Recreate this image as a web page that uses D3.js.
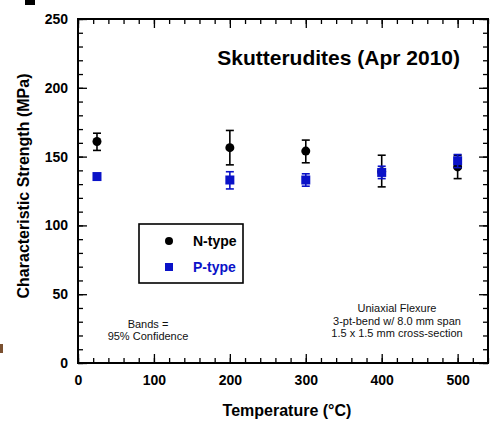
<!DOCTYPE html>
<html>
<head>
<meta charset="utf-8">
<script src="https://cdn.jsdelivr.net/npm/d3@7"></script>
<style>
  body { margin: 0; background: white; }
  svg { display: block; font-family: "Liberation Sans", Arial, sans-serif; }
</style>
</head>
<body>
<script>
var temps = [25, 200, 300, 400, 500];
var nMean = [161, 156.5, 154, 139, 142.5];
var nLow  = [154.5, 144, 145.5, 128, 134];
var nHigh = [167, 169, 162, 151, 151];
var pMean = [135.5, 133, 133, 138.5, 147];
var pLow  = [134, 126.5, 128.5, 134, 142];
var pHigh = [137, 139, 137.5, 143, 151.5];
var xTicks = [0, 100, 200, 300, 400, 500];
var yTicks = [0, 50, 100, 150, 200, 250];

var blue = "#0a12c8";

var svg = d3.select("body")
            .append("svg")
            .attr("width", 500)
            .attr("height", 426);

var xScale = d3.scaleLinear().domain([0, 540]).range([78, 488]);
var yScale = d3.scaleLinear().domain([0, 250]).range([363, 19]);

// stray marks from the original crop
svg.append("rect").attr("x", 25).attr("y", 0).attr("width", 10).attr("height", 5).attr("fill", "#000");
svg.append("rect").attr("x", 0).attr("y", 344).attr("width", 3).attr("height", 9).attr("fill", "#7a5030");

// minor ticks (inward, all four sides)
var xMinor = d3.range(0, 541, 20);
var yMinor = d3.range(0, 251, 10);

function styleAxis(g) {
  g.select(".domain").remove();
  g.selectAll("line").attr("stroke", "#000").attr("stroke-width", 1.3);
  g.selectAll("text")
   .attr("font-size", 14)
   .attr("font-weight", "bold")
   .attr("fill", "#000")
   .attr("font-family", "Liberation Sans, Arial, sans-serif");
}

svg.append("g")
   .attr("transform", "translate(0,363)")
   .call(d3.axisBottom(xScale).tickValues(xMinor).tickSize(-5).tickFormat(""))
   .call(styleAxis);
svg.append("g")
   .attr("transform", "translate(0,19)")
   .call(d3.axisTop(xScale).tickValues(xMinor).tickSize(-5).tickFormat(""))
   .call(styleAxis);
svg.append("g")
   .attr("transform", "translate(78,0)")
   .call(d3.axisLeft(yScale).tickValues(yMinor).tickSize(-5).tickFormat(""))
   .call(styleAxis);
svg.append("g")
   .attr("transform", "translate(488,0)")
   .call(d3.axisRight(yScale).tickValues(yMinor).tickSize(-5).tickFormat(""))
   .call(styleAxis);

// major ticks with labels
svg.append("g")
   .attr("transform", "translate(0,363)")
   .call(d3.axisBottom(xScale).tickValues(xTicks).tickSize(-9).tickPadding(12))
   .call(styleAxis);
svg.append("g")
   .attr("transform", "translate(0,19)")
   .call(d3.axisTop(xScale).tickValues(xTicks).tickSize(-9).tickFormat(""))
   .call(styleAxis);
svg.append("g")
   .attr("transform", "translate(78,0)")
   .call(d3.axisLeft(yScale).tickValues(yTicks).tickSize(-9).tickPadding(10))
   .call(styleAxis);
svg.append("g")
   .attr("transform", "translate(488,0)")
   .call(d3.axisRight(yScale).tickValues(yTicks).tickSize(-9).tickFormat(""))
   .call(styleAxis);

// frame
svg.append("rect")
   .attr("x", 78)
   .attr("y", 19)
   .attr("width", 410)
   .attr("height", 344)
   .attr("fill", "none")
   .attr("stroke", "#000")
   .attr("stroke-width", 2);

// titles
svg.append("text")
   .attr("x", 460)
   .attr("y", 65)
   .attr("text-anchor", "end")
   .attr("font-size", 21)
   .attr("font-weight", "bold")
   .text("Skutterudites (Apr 2010)");

svg.append("text")
   .attr("transform", "translate(29,186) rotate(-90)")
   .attr("text-anchor", "middle")
   .attr("font-size", 16)
   .attr("font-weight", "bold")
   .text("Characteristic Strength (MPa)");

svg.append("text")
   .attr("x", 287)
   .attr("y", 416)
   .attr("text-anchor", "middle")
   .attr("font-size", 16)
   .attr("font-weight", "bold")
   .text("Temperature (°C)");

// notes
var bands = ["Bands =", "95% Confidence"];
svg.selectAll(".bands")
   .data(bands).enter()
   .append("text")
   .attr("class", "bands")
   .attr("x", 148)
   .attr("y", (d, i) => 328 + i * 12)
   .attr("text-anchor", "middle")
   .attr("font-size", 11)
   .attr("fill", "#111")
   .text((d) => d);

var notes = ["Uniaxial Flexure", "3-pt-bend w/ 8.0 mm span", "1.5 x 1.5 mm cross-section"];
svg.selectAll(".notes")
   .data(notes).enter()
   .append("text")
   .attr("class", "notes")
   .attr("x", 397)
   .attr("y", (d, i) => 312 + i * 12.5)
   .attr("text-anchor", "middle")
   .attr("font-size", 11)
   .attr("fill", "#111")
   .text((d) => d);

// series
var nData = temps.map((t, i) => ({t: t, m: nMean[i], lo: nLow[i], hi: nHigh[i]}));
var pData = temps.map((t, i) => ({t: t, m: pMean[i], lo: pLow[i], hi: pHigh[i]}));

function errorBars(data, color, cls) {
  var g = svg.selectAll("." + cls)
             .data(data).enter()
             .append("g")
             .attr("class", cls)
             .attr("stroke", color)
             .attr("stroke-width", 1.6);
  g.append("line")
   .attr("x1", (d) => xScale(d.t)).attr("x2", (d) => xScale(d.t))
   .attr("y1", (d) => yScale(d.lo)).attr("y2", (d) => yScale(d.hi));
  g.append("line")
   .attr("x1", (d) => xScale(d.t) - 4).attr("x2", (d) => xScale(d.t) + 4)
   .attr("y1", (d) => yScale(d.lo)).attr("y2", (d) => yScale(d.lo));
  g.append("line")
   .attr("x1", (d) => xScale(d.t) - 4).attr("x2", (d) => xScale(d.t) + 4)
   .attr("y1", (d) => yScale(d.hi)).attr("y2", (d) => yScale(d.hi));
}

errorBars(nData, "#000", "nbar");
svg.selectAll(".npt")
   .data(nData).enter()
   .append("circle")
   .attr("class", "npt")
   .attr("cx", (d) => xScale(d.t))
   .attr("cy", (d) => yScale(d.m))
   .attr("r", 4.5)
   .attr("fill", "#000");

errorBars(pData, blue, "pbar");
svg.selectAll(".ppt")
   .data(pData).enter()
   .append("rect")
   .attr("class", "ppt")
   .attr("x", (d) => xScale(d.t) - 4.5)
   .attr("y", (d) => yScale(d.m) - 4.5)
   .attr("width", 9)
   .attr("height", 9)
   .attr("fill", blue);

// legend
svg.append("rect")
   .attr("x", 139)
   .attr("y", 224)
   .attr("width", 104)
   .attr("height", 59)
   .attr("fill", "white")
   .attr("stroke", "#000")
   .attr("stroke-width", 1.6);

svg.append("circle")
   .attr("cx", 169)
   .attr("cy", 241)
   .attr("r", 4)
   .attr("fill", "#000");
svg.append("rect")
   .attr("x", 165)
   .attr("y", 263)
   .attr("width", 8)
   .attr("height", 8)
   .attr("fill", blue);

svg.append("text")
   .attr("x", 193)
   .attr("y", 246)
   .attr("font-size", 14)
   .attr("font-weight", "bold")
   .text("N-type");
svg.append("text")
   .attr("x", 193)
   .attr("y", 272)
   .attr("font-size", 14)
   .attr("font-weight", "bold")
   .attr("fill", blue)
   .text("P-type");
</script>
</body>
</html>
